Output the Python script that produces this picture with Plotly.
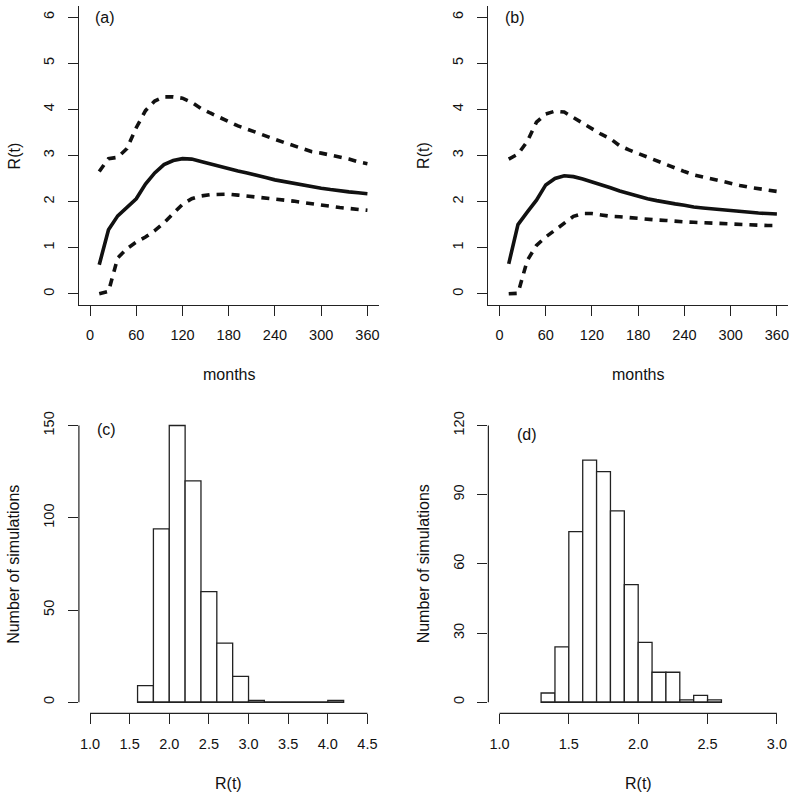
import plotly.graph_objects as go

# ---------------- data ----------------
months = [12, 24, 36, 48, 60, 72, 84, 96, 108, 120, 132, 144, 156, 168, 180,
          192, 204, 216, 228, 240, 252, 264, 276, 288, 300, 312, 324, 336, 348, 360]

a_mid = [0.63, 1.39, 1.69, 1.87, 2.06, 2.38, 2.62, 2.80, 2.89, 2.93, 2.92, 2.87, 2.82, 2.76, 2.70,
         2.66, 2.62, 2.56, 2.52, 2.47, 2.43, 2.39, 2.35, 2.32, 2.29, 2.26, 2.23, 2.21, 2.19, 2.17]
a_upper = [2.65, 2.93, 2.96, 3.15, 3.60, 3.97, 4.18, 4.27, 4.27, 4.24, 4.15, 4.02, 3.92, 3.82, 3.72,
           3.64, 3.57, 3.49, 3.42, 3.35, 3.28, 3.21, 3.14, 3.08, 3.05, 3.01, 2.97, 2.92, 2.86, 2.82]
a_lower = [0.00, 0.05, 0.78, 0.98, 1.12, 1.23, 1.37, 1.54, 1.74, 1.94, 2.06, 2.12, 2.15, 2.16, 2.16,
           2.14, 2.12, 2.10, 2.08, 2.05, 2.03, 2.01, 1.98, 1.95, 1.92, 1.90, 1.87, 1.85, 1.83, 1.81]

b_mid = [0.65, 1.50, 1.77, 2.03, 2.36, 2.50, 2.56, 2.54, 2.49, 2.43, 2.37, 2.30, 2.23, 2.17, 2.11,
         2.06, 2.02, 1.98, 1.95, 1.92, 1.88, 1.86, 1.84, 1.82, 1.80, 1.79, 1.77, 1.75, 1.74, 1.73]
b_upper = [2.92, 3.03, 3.30, 3.72, 3.90, 3.96, 3.94, 3.82, 3.69, 3.58, 3.46, 3.36, 3.21, 3.12, 3.04,
           2.95, 2.87, 2.79, 2.72, 2.65, 2.58, 2.53, 2.48, 2.43, 2.39, 2.35, 2.31, 2.28, 2.25, 2.22]
b_lower = [0.00, 0.01, 0.72, 1.05, 1.23, 1.38, 1.54, 1.68, 1.74, 1.74, 1.71, 1.68, 1.67, 1.65, 1.64,
           1.62, 1.60, 1.59, 1.57, 1.56, 1.55, 1.54, 1.53, 1.52, 1.52, 1.51, 1.50, 1.49, 1.48, 1.48]

c_edges = [1.6, 1.8, 2.0, 2.2, 2.4, 2.6, 2.8, 3.0, 3.2, 3.4, 3.6, 3.8, 4.0, 4.2]
c_counts = [9, 94, 150, 120, 60, 32, 14, 1, 0, 0, 0, 0, 1]

d_edges = [1.3, 1.4, 1.5, 1.6, 1.7, 1.8, 1.9, 2.0, 2.1, 2.2, 2.3, 2.4, 2.5, 2.6]
d_counts = [4, 24, 74, 105, 100, 83, 51, 26, 13, 13, 1, 3, 1]

month_ticks = [0, 60, 120, 180, 240, 300, 360]
r_ticks = [0, 1, 2, 3, 4, 5, 6]
c_xticks = [1.0, 1.5, 2.0, 2.5, 3.0, 3.5, 4.0, 4.5]
c_yticks = [0, 50, 100, 150]
d_xticks = [1.0, 1.5, 2.0, 2.5, 3.0]
d_yticks = [0, 30, 60, 90, 120]

panel_labels = ["(a)", "(b)", "(c)", "(d)"]

# ---------------- layout constants ----------------
W, H = 793, 796
FONT = "Liberation Sans, Arial, sans-serif"
INK = "#111111"
AXC = "#222222"


def ext(lo, hi):
    d = (hi - lo) * 0.04
    return [lo - d, hi + d]


def xd(p0, p1):
    return [p0 / W, p1 / W]


def yd(p0, p1):  # pixel top, pixel bottom
    return [1 - p1 / H, 1 - p0 / H]


fig = go.Figure()

# line panels
for k, (mid, up, lo) in enumerate([(a_mid, a_upper, a_lower), (b_mid, b_upper, b_lower)]):
    xa = "x" if k == 0 else "x2"
    ya = "y" if k == 0 else "y2"
    for series, dash in [(up, "8px,7px"), (lo, "8px,7px"), (mid, "solid")]:
        fig.add_trace(go.Scatter(x=months, y=series, mode="lines", xaxis=xa, yaxis=ya,
                                 line=dict(color=INK, width=3.6, dash=dash),
                                 showlegend=False, hoverinfo="skip"))

# histogram panels
for k, (edges, counts) in enumerate([(c_edges, c_counts), (d_edges, d_counts)]):
    xa = "x3" if k == 0 else "x4"
    ya = "y3" if k == 0 else "y4"
    centers = [(edges[i] + edges[i + 1]) / 2 for i in range(len(counts))]
    widths = [edges[i + 1] - edges[i] for i in range(len(counts))]
    fig.add_trace(go.Bar(x=centers, y=counts, width=widths, xaxis=xa, yaxis=ya,
                         marker=dict(color="white", line=dict(color=AXC, width=1.3)),
                         showlegend=False, hoverinfo="skip"))
    fig.add_trace(go.Scatter(x=[edges[0], edges[-1]], y=[0, 0], mode="lines", xaxis=xa, yaxis=ya,
                             line=dict(color=AXC, width=1.3), showlegend=False, hoverinfo="skip"))

common_axis = dict(showgrid=False, zeroline=False, ticks="outside", ticklen=10, tickwidth=1.2,
                   tickcolor=AXC, tickfont=dict(family=FONT, size=14.5, color=INK),
                   fixedrange=True)

left_x = xd(79, 379)
right_x = xd(489, 789)
top_y = yd(3, 303)
bot_y = yd(413, 713)

XS = 7   # x tick label standoff
YS = 8   # y tick label standoff

layout = dict(
    width=W, height=H, margin=dict(l=0, r=0, t=0, b=0),
    paper_bgcolor="white", plot_bgcolor="white", showlegend=False,
    font=dict(family=FONT, color=INK),
    xaxis=dict(common_axis, domain=left_x, anchor="y", range=ext(0, 360), tickvals=month_ticks,
               showline=True, linecolor=AXC, linewidth=1.2, ticklabelstandoff=XS),
    yaxis=dict(common_axis, domain=top_y, anchor="x", range=ext(0, 6), tickvals=r_ticks,
               showline=True, linecolor=AXC, linewidth=1.2, tickangle=-90, ticklabelstandoff=YS),
    xaxis2=dict(common_axis, domain=right_x, anchor="y2", range=ext(0, 360), tickvals=month_ticks,
                showline=True, linecolor=AXC, linewidth=1.2, ticklabelstandoff=XS),
    yaxis2=dict(common_axis, domain=top_y, anchor="x2", range=ext(0, 6), tickvals=r_ticks,
                showline=True, linecolor=AXC, linewidth=1.2, tickangle=-90, ticklabelstandoff=YS),
    xaxis3=dict(common_axis, domain=left_x, anchor="y3", range=ext(c_xticks[0], c_xticks[-1]),
                tickvals=c_xticks, ticktext=[f"{v:.1f}" for v in c_xticks], showline=False,
                ticklabelstandoff=XS),
    yaxis3=dict(common_axis, domain=bot_y, anchor="x3", range=ext(c_yticks[0], c_yticks[-1]),
                tickvals=c_yticks, showline=False, tickangle=-90, ticklabelstandoff=YS),
    xaxis4=dict(common_axis, domain=right_x, anchor="y4", range=ext(d_xticks[0], d_xticks[-1]),
                tickvals=d_xticks, ticktext=[f"{v:.1f}" for v in d_xticks], showline=False,
                ticklabelstandoff=XS),
    yaxis4=dict(common_axis, domain=bot_y, anchor="x4", range=ext(d_yticks[0], d_yticks[-1]),
                tickvals=d_yticks, showline=False, tickangle=-90, ticklabelstandoff=YS),
)
fig.update_layout(**layout)

# R-style axis lines for histograms (span first to last tick)
for xa, ya, xt, yt in [("x3", "y3", c_xticks, c_yticks), ("x4", "y4", d_xticks, d_yticks)]:
    fig.add_shape(type="line", xref=xa, yref=f"{ya} domain", x0=xt[0], x1=xt[-1], y0=0, y1=0,
                  line=dict(color=AXC, width=1.2))
    fig.add_shape(type="line", xref=f"{xa} domain", yref=ya, x0=0, x1=0, y0=yt[0], y1=yt[-1],
                  line=dict(color=AXC, width=1.2))

# panel labels
lab_pos = [("x", "y", 20, 6), ("x2", "y2", 20, 6), ("x3", "y3", 1.21, 148), ("x4", "y4", 1.2, 116)]
for (xa, ya, xv, yv), txt in zip(lab_pos, panel_labels):
    fig.add_annotation(x=xv, y=yv, xref=xa, yref=ya, text=txt, showarrow=False,
                       font=dict(family=FONT, size=16, color=INK), xanchor="center", yanchor="middle")

# axis titles
title_font = dict(family=FONT, size=16, color=INK)
for xdom, ydom, xt, yt in [(left_x, top_y, "months", "R(t)"), (right_x, top_y, "months", "R(t)"),
                           (left_x, bot_y, "R(t)", "Number of simulations"),
                           (right_x, bot_y, "R(t)", "Number of simulations")]:
    cx = (xdom[0] + xdom[1]) / 2
    cy = (ydom[0] + ydom[1]) / 2
    fig.add_annotation(x=cx, y=ydom[0] - 70 / H, xref="paper", yref="paper", text=xt,
                       showarrow=False, font=title_font, xanchor="center", yanchor="middle")
    fig.add_annotation(x=xdom[0] - 65 / W, y=cy, xref="paper", yref="paper", text=yt,
                       showarrow=False, font=title_font, xanchor="center", yanchor="middle",
                       textangle=-90)

fig.write_html("out.html", config={"displayModeBar": False},
               post_script="document.body.style.margin='0';document.body.style.overflow='hidden';")
